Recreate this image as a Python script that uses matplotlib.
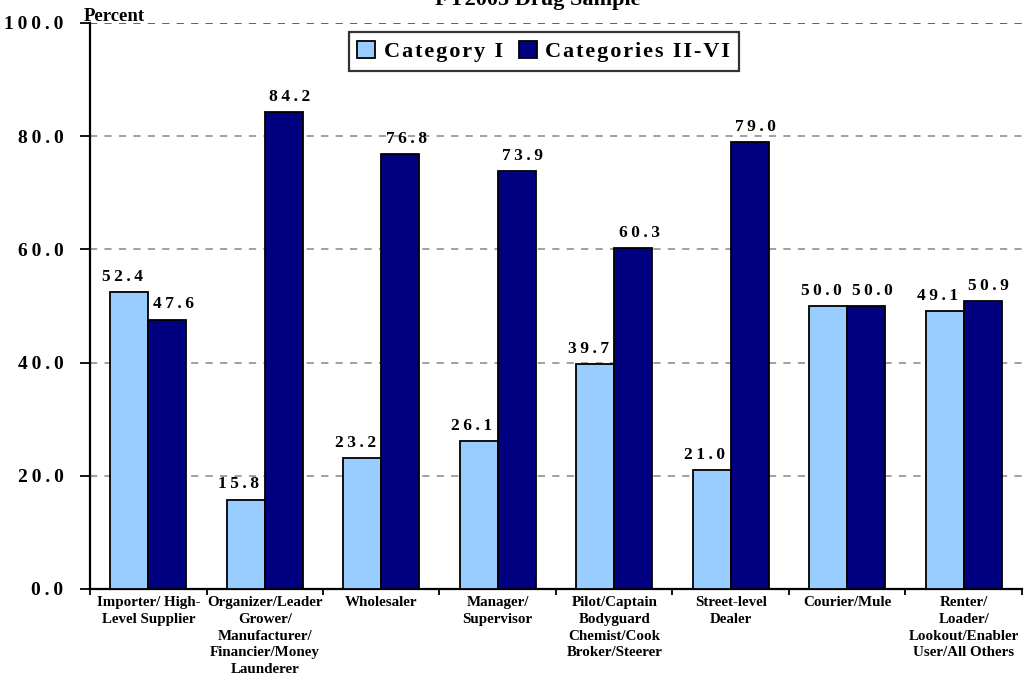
import matplotlib.pyplot as plt
import numpy as np

categories = ["Importer/ High-\nLevel Supplier",
              "Organizer/Leader\nGrower/\nManufacturer/\nFinancier/Money\nLaunderer",
              "Wholesaler",
              "Manager/\nSupervisor",
              "Pilot/Captain\nBodyguard\nChemist/Cook\nBroker/Steerer",
              "Street-level\nDealer",
              "Courier/Mule",
              "Renter/\nLoader/\nLookout/Enabler\nUser/All Others"]
cat1 = [52.4, 15.8, 23.2, 26.1, 39.7, 21.0, 50.0, 49.1]
cat2 = [47.6, 84.2, 76.8, 73.9, 60.3, 79.0, 50.0, 50.9]
yticks = [0, 20, 40, 60, 80, 100]

serif = ["Liberation Serif", "DejaVu Serif"]


def spaced(s, sep="\u2009"):
    return sep.join(s)


fig = plt.figure(figsize=(10.24, 6.82), dpi=100)
ax = fig.add_axes([0.0879, 0.1364, 0.9101, 0.8299])

x = np.arange(len(categories))
w = 0.325
b1 = ax.bar(x - w / 2, cat1, w, color="#99CCFF", edgecolor="black", linewidth=1.3,
            label=spaced("Category I", "\u200a"), zorder=3)
b2 = ax.bar(x + w / 2, cat2, w, color="#000080", edgecolor="black", linewidth=1.3,
            label=spaced("Categories II-VI", "\u200a"), zorder=3)

# labels are nudged apart a little, like in the original
for bars, vals, dx in ((b1, cat1, -5), (b2, cat2, 4.5)):
    for r, v in zip(bars, vals):
        ax.annotate(spaced("%.1f" % v), (r.get_x() + r.get_width() / 2, v),
                    xytext=(dx, 8), textcoords="offset points",
                    ha="center", va="baseline", fontsize=12.5, fontweight="bold",
                    family=serif, zorder=4)

ax.set_xlim(-0.5, len(categories) - 0.5)
ax.set_ylim(0, 100)
ax.set_yticks(yticks)
ax.set_yticklabels([spaced("%.1f" % t) for t in yticks], fontsize=14,
                   fontweight="bold", family=serif)
ax.tick_params(axis="y", direction="out", length=7, width=1.3, pad=12)

ax.set_xticks(np.arange(len(categories) + 1) - 0.5)
ax.set_xticklabels([])
ax.tick_params(axis="x", which="major", direction="out", length=4, width=1.3)
ax.set_xticks(x, minor=True)
ax.set_xticklabels(categories, minor=True, fontsize=10.8, fontweight="bold",
                   family=serif, linespacing=1.38)
ax.tick_params(axis="x", which="minor", length=0, pad=5)

for t in yticks[1:]:
    ax.axhline(t, color="#999999" if t < 100 else "#555555", linestyle=(0, (4, 4)),
               linewidth=1.3, zorder=1)

ax.spines["top"].set_visible(False)
ax.spines["right"].set_visible(False)
ax.spines["left"].set_linewidth(1.6)
ax.spines["bottom"].set_linewidth(1.6)

leg = ax.legend(loc="upper center", bbox_to_anchor=(0.487, 0.984), ncol=2,
                frameon=True, fancybox=False, edgecolor="black",
                prop={"family": serif, "weight": "bold", "size": 16},
                handlelength=0.8, handleheight=0.8, handletextpad=0.4,
                columnspacing=0.7, borderpad=0.4, borderaxespad=0)
leg.get_frame().set_linewidth(1.6)

fig.text(0.525, 0.9927, "FY2005 Drug Sample", ha="center", va="baseline",
         fontsize=16, fontweight="bold", family=serif)
fig.text(0.082, 0.969, "Percent", ha="left", va="baseline", fontsize=13.5,
         fontweight="bold", family=serif)

fig.savefig("out.png", dpi=100)
